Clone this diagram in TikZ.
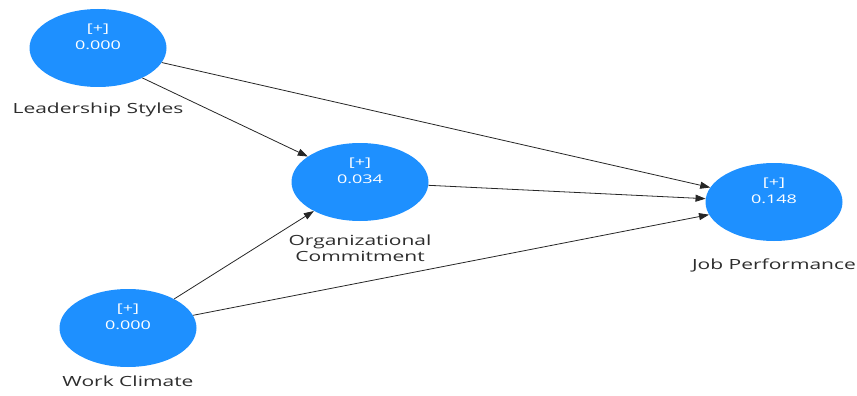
\documentclass[tikz,border=0pt]{standalone}
\usepackage{fontspec}
\setmainfont{Open Sans}
\newfontfamily\widesans[FakeStretch=1.5]{Open Sans}
\usepackage{tikz}
\usetikzlibrary{shapes.geometric,arrows.meta,positioning}

\definecolor{plsblue}{RGB}{30,144,255}
\definecolor{lbltext}{RGB}{45,45,45}

\begin{document}
\begin{tikzpicture}[
  x=1pt, y=-1pt,
  node distance=4pt,
  lv/.style={ellipse, fill=plsblue, minimum width=137pt, minimum height=78pt, inner sep=0pt},
  val/.style={text=white, align=center, font=\widesans\fontsize{12}{17}\selectfont},
  lbl/.style={text=lbltext, align=center, font=\widesans\fontsize{14}{16}\selectfont},
  path/.style={-{Triangle[length=10pt,width=7pt]}, draw=black!85, line width=0.8pt}
]
\useasboundingbox (0,0) rectangle (857,396);

% latent variables
\node[lv] (ls) at (98,48) {};
\node[lv] (oc) at (360,182) {};
\node[lv] (jp) at (774,202) {};
\node[lv] (wc) at (128,328) {};

% r-square values
\node[val] (lsv) at ([yshift=11pt]ls.center) {[+]\\0.000};
\node[val] (ocv) at ([yshift=11pt]oc.center) {[+]\\0.034};
\node[val] (jpv) at ([yshift=11pt]jp.center) {[+]\\0.148};
\node[val] (wcv) at ([yshift=11pt]wc.center) {[+]\\0.000};

% names
\node[lbl, below=12pt of ls] (lsl) {Leadership Styles};
\node[lbl, below=10pt of oc] (ocl) {Organizational\\Commitment};
\node[lbl, below=14pt of jp] (jpl) {Job Performance};
\node[lbl, below=5pt of wc] (wcl) {Work Climate};

% paths
\draw[path] (ls) -- (jp);
\draw[path] (ls.-34) -- (oc.154);
\draw[path] (oc) -- (jp);
\draw[path] (wc) -- (oc);
\draw[path] (wc) -- (jp);
\end{tikzpicture}
\end{document}
